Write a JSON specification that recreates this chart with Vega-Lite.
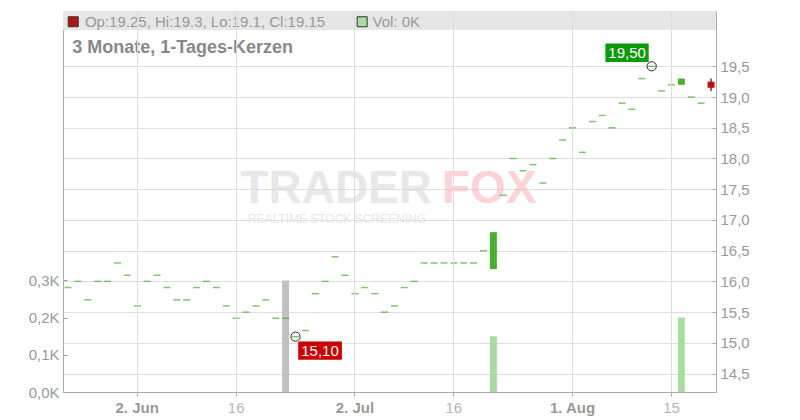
{
  "$schema": "https://vega.github.io/schema/vega-lite/v6.json",
  "width": 653,
  "height": 381,
  "autosize": {"type": "none"},
  "padding": {"left": 63, "top": 11, "right": 84, "bottom": 28},
  "background": "white",
  "config": {"view": {"stroke": "#cccccc"}, "font": "Liberation Sans"},
  "data": {"values": [
    {"date": "2025-05-22", "open": 15.9, "high": 15.9, "low": 15.9, "close": 15.9, "volume": 0},
    {"date": "2025-05-23", "open": 16.0, "high": 16.0, "low": 16.0, "close": 16.0, "volume": 0},
    {"date": "2025-05-26", "open": 15.7, "high": 15.7, "low": 15.7, "close": 15.7, "volume": 0},
    {"date": "2025-05-27", "open": 16.0, "high": 16.0, "low": 16.0, "close": 16.0, "volume": 0},
    {"date": "2025-05-28", "open": 16.0, "high": 16.0, "low": 16.0, "close": 16.0, "volume": 0},
    {"date": "2025-05-29", "open": 16.3, "high": 16.3, "low": 16.3, "close": 16.3, "volume": 0},
    {"date": "2025-05-30", "open": 16.1, "high": 16.1, "low": 16.1, "close": 16.1, "volume": 0},
    {"date": "2025-06-02", "open": 15.6, "high": 15.6, "low": 15.6, "close": 15.6, "volume": 0},
    {"date": "2025-06-03", "open": 16.0, "high": 16.0, "low": 16.0, "close": 16.0, "volume": 0},
    {"date": "2025-06-04", "open": 16.1, "high": 16.1, "low": 16.1, "close": 16.1, "volume": 0},
    {"date": "2025-06-05", "open": 15.9, "high": 15.9, "low": 15.9, "close": 15.9, "volume": 0},
    {"date": "2025-06-06", "open": 15.7, "high": 15.7, "low": 15.7, "close": 15.7, "volume": 0},
    {"date": "2025-06-09", "open": 15.7, "high": 15.7, "low": 15.7, "close": 15.7, "volume": 0},
    {"date": "2025-06-10", "open": 15.9, "high": 15.9, "low": 15.9, "close": 15.9, "volume": 0},
    {"date": "2025-06-11", "open": 16.0, "high": 16.0, "low": 16.0, "close": 16.0, "volume": 0},
    {"date": "2025-06-12", "open": 15.9, "high": 15.9, "low": 15.9, "close": 15.9, "volume": 0},
    {"date": "2025-06-13", "open": 15.6, "high": 15.6, "low": 15.6, "close": 15.6, "volume": 0},
    {"date": "2025-06-16", "open": 15.4, "high": 15.4, "low": 15.4, "close": 15.4, "volume": 0},
    {"date": "2025-06-17", "open": 15.5, "high": 15.5, "low": 15.5, "close": 15.5, "volume": 0},
    {"date": "2025-06-18", "open": 15.6, "high": 15.6, "low": 15.6, "close": 15.6, "volume": 0},
    {"date": "2025-06-19", "open": 15.7, "high": 15.7, "low": 15.7, "close": 15.7, "volume": 0},
    {"date": "2025-06-20", "open": 15.4, "high": 15.4, "low": 15.4, "close": 15.4, "volume": 0},
    {"date": "2025-06-23", "open": 15.4, "high": 15.4, "low": 15.4, "close": 15.4, "volume": 300},
    {"date": "2025-06-24", "open": 15.1, "high": 15.1, "low": 15.1, "close": 15.1, "volume": 0},
    {"date": "2025-06-25", "open": 15.2, "high": 15.2, "low": 15.2, "close": 15.2, "volume": 0},
    {"date": "2025-06-26", "open": 15.8, "high": 15.8, "low": 15.8, "close": 15.8, "volume": 0},
    {"date": "2025-06-27", "open": 16.0, "high": 16.0, "low": 16.0, "close": 16.0, "volume": 0},
    {"date": "2025-06-30", "open": 16.4, "high": 16.4, "low": 16.4, "close": 16.4, "volume": 0},
    {"date": "2025-07-01", "open": 16.1, "high": 16.1, "low": 16.1, "close": 16.1, "volume": 0},
    {"date": "2025-07-02", "open": 15.8, "high": 15.8, "low": 15.8, "close": 15.8, "volume": 0},
    {"date": "2025-07-03", "open": 15.9, "high": 15.9, "low": 15.9, "close": 15.9, "volume": 0},
    {"date": "2025-07-04", "open": 15.8, "high": 15.8, "low": 15.8, "close": 15.8, "volume": 0},
    {"date": "2025-07-07", "open": 15.5, "high": 15.5, "low": 15.5, "close": 15.5, "volume": 0},
    {"date": "2025-07-08", "open": 15.6, "high": 15.6, "low": 15.6, "close": 15.6, "volume": 0},
    {"date": "2025-07-09", "open": 15.9, "high": 15.9, "low": 15.9, "close": 15.9, "volume": 0},
    {"date": "2025-07-10", "open": 16.0, "high": 16.0, "low": 16.0, "close": 16.0, "volume": 0},
    {"date": "2025-07-11", "open": 16.3, "high": 16.3, "low": 16.3, "close": 16.3, "volume": 0},
    {"date": "2025-07-14", "open": 16.3, "high": 16.3, "low": 16.3, "close": 16.3, "volume": 0},
    {"date": "2025-07-15", "open": 16.3, "high": 16.3, "low": 16.3, "close": 16.3, "volume": 0},
    {"date": "2025-07-16", "open": 16.3, "high": 16.3, "low": 16.3, "close": 16.3, "volume": 0},
    {"date": "2025-07-17", "open": 16.3, "high": 16.3, "low": 16.3, "close": 16.3, "volume": 0},
    {"date": "2025-07-18", "open": 16.3, "high": 16.3, "low": 16.3, "close": 16.3, "volume": 0},
    {"date": "2025-07-21", "open": 16.5, "high": 16.5, "low": 16.5, "close": 16.5, "volume": 0},
    {"date": "2025-07-22", "open": 16.2, "high": 16.8, "low": 16.2, "close": 16.8, "volume": 150},
    {"date": "2025-07-23", "open": 17.4, "high": 17.4, "low": 17.4, "close": 17.4, "volume": 0},
    {"date": "2025-07-24", "open": 18.0, "high": 18.0, "low": 18.0, "close": 18.0, "volume": 0},
    {"date": "2025-07-25", "open": 17.8, "high": 17.8, "low": 17.8, "close": 17.8, "volume": 0},
    {"date": "2025-07-28", "open": 17.9, "high": 17.9, "low": 17.9, "close": 17.9, "volume": 0},
    {"date": "2025-07-29", "open": 17.6, "high": 17.6, "low": 17.6, "close": 17.6, "volume": 0},
    {"date": "2025-07-30", "open": 18.0, "high": 18.0, "low": 18.0, "close": 18.0, "volume": 0},
    {"date": "2025-07-31", "open": 18.3, "high": 18.3, "low": 18.3, "close": 18.3, "volume": 0},
    {"date": "2025-08-01", "open": 18.5, "high": 18.5, "low": 18.5, "close": 18.5, "volume": 0},
    {"date": "2025-08-04", "open": 18.1, "high": 18.1, "low": 18.1, "close": 18.1, "volume": 0},
    {"date": "2025-08-05", "open": 18.6, "high": 18.6, "low": 18.6, "close": 18.6, "volume": 0},
    {"date": "2025-08-06", "open": 18.7, "high": 18.7, "low": 18.7, "close": 18.7, "volume": 0},
    {"date": "2025-08-07", "open": 18.5, "high": 18.5, "low": 18.5, "close": 18.5, "volume": 0},
    {"date": "2025-08-08", "open": 18.9, "high": 18.9, "low": 18.9, "close": 18.9, "volume": 0},
    {"date": "2025-08-11", "open": 18.8, "high": 18.8, "low": 18.8, "close": 18.8, "volume": 0},
    {"date": "2025-08-12", "open": 19.3, "high": 19.3, "low": 19.3, "close": 19.3, "volume": 0},
    {"date": "2025-08-13", "open": 19.5, "high": 19.5, "low": 19.5, "close": 19.5, "volume": 0},
    {"date": "2025-08-14", "open": 19.1, "high": 19.1, "low": 19.1, "close": 19.1, "volume": 0},
    {"date": "2025-08-15", "open": 19.2, "high": 19.2, "low": 19.2, "close": 19.2, "volume": 0},
    {"date": "2025-08-18", "open": 19.2, "high": 19.3, "low": 19.2, "close": 19.3, "volume": 200},
    {"date": "2025-08-19", "open": 19.0, "high": 19.0, "low": 19.0, "close": 19.0, "volume": 0},
    {"date": "2025-08-20", "open": 18.9, "high": 18.9, "low": 18.9, "close": 18.9, "volume": 0},
    {"date": "2025-08-21", "open": 19.25, "high": 19.3, "low": 19.1, "close": 19.15, "volume": 0}
  ]},
  "layer": [
    {
      "transform": [{"filter": "datum.volume > 0"}],
      "mark": {"type": "bar", "size": 7},
      "encoding": {
        "x": {"field": "date", "type": "ordinal", "scale": {"type": "band", "paddingInner": 0, "paddingOuter": 0}, "axis": {"title": null, "values": ["2025-06-02", "2025-06-16", "2025-07-02", "2025-07-16", "2025-08-01", "2025-08-15"], "labelExpr": "indexof(['2025-06-02','2025-07-02','2025-08-01'], datum.value) >= 0 ? utcFormat(toDate(datum.value), '%-d. %b') : utcFormat(toDate(datum.value), '%-d')", "labelAngle": 0, "labelFontSize": 15, "labelFontWeight": {"condition": {"test": "indexof(['2025-06-02','2025-07-02','2025-08-01'], datum.value) >= 0", "value": "bold"}, "value": "normal"}, "labelColor": {"condition": {"test": "indexof(['2025-06-02','2025-07-02','2025-08-01'], datum.value) >= 0", "value": "#999999"}, "value": "#b5b5b5"}, "grid": true, "gridColor": "#dddddd", "domainColor": "#aaaaaa", "tickColor": "#aaaaaa", "tickSize": 4, "labelPadding": 4, "bandPosition": 0.5, "zindex": 1}},
        "y": {"field": "volume", "type": "quantitative", "scale": {"domain": [0, 1025], "nice": false}, "axis": {"orient": "left", "title": null, "values": [0, 100, 200, 300], "labelExpr": "replace(format(datum.value / 1000, '.1f'), '.', ',') + 'K'", "labelFontSize": 15, "labelColor": "#999999", "grid": false, "domainColor": "#aaaaaa", "tickColor": "#999999", "tickSize": -4, "labelPadding": 8}},
        "color": {"condition": {"test": "datum.close > datum.open", "value": "#a8dca0"}, "value": "#c0c0c0"}
      }
    },
    {
      "layer": [
        {
          "data": {"values": [{}]},
          "mark": {"type": "rect", "color": "#e6e6e6"},
          "encoding": {
            "y": {"datum": 20.09, "type": "quantitative", "scale": {"domain": [14.2, 20.4], "nice": false, "zero": false}, "axis": {"orient": "right", "title": null, "values": [14.5, 15, 15.5, 16, 16.5, 17, 17.5, 18, 18.5, 19, 19.5], "labelExpr": "replace(format(datum.value, '.1f'), '.', ',')", "labelFontSize": 15, "labelColor": "#999999", "grid": true, "gridColor": "#dddddd", "domainColor": "#aaaaaa", "tickColor": "#aaaaaa", "tickSize": -4, "labelPadding": 8}},
            "y2": {"datum": 20.4}
          }
        },
        {
          "data": {"values": [{"date": "2025-07-14", "t": "TRADER"}]},
          "mark": {"type": "text", "align": "right", "baseline": "middle", "dx": -2, "fontSize": 46, "fontWeight": "bold", "color": "#d6d6d6", "opacity": 0.55},
          "encoding": {
            "x": {"field": "date", "type": "ordinal", "scale": {"type": "band", "paddingInner": 0, "paddingOuter": 0}, "axis": {"title": null, "values": ["2025-06-02", "2025-06-16", "2025-07-02", "2025-07-16", "2025-08-01", "2025-08-15"], "labelExpr": "indexof(['2025-06-02','2025-07-02','2025-08-01'], datum.value) >= 0 ? utcFormat(toDate(datum.value), '%-d. %b') : utcFormat(toDate(datum.value), '%-d')", "labelAngle": 0, "labelFontSize": 15, "labelFontWeight": {"condition": {"test": "indexof(['2025-06-02','2025-07-02','2025-08-01'], datum.value) >= 0", "value": "bold"}, "value": "normal"}, "labelColor": {"condition": {"test": "indexof(['2025-06-02','2025-07-02','2025-08-01'], datum.value) >= 0", "value": "#999999"}, "value": "#b5b5b5"}, "grid": true, "gridColor": "#dddddd", "domainColor": "#aaaaaa", "tickColor": "#aaaaaa", "tickSize": 4, "labelPadding": 4, "bandPosition": 0.5, "zindex": 1}},
            "y": {"datum": 17.5, "type": "quantitative", "scale": {"domain": [14.2, 20.4], "nice": false, "zero": false}, "axis": {"orient": "right", "title": null, "values": [14.5, 15, 15.5, 16, 16.5, 17, 17.5, 18, 18.5, 19, 19.5], "labelExpr": "replace(format(datum.value, '.1f'), '.', ',')", "labelFontSize": 15, "labelColor": "#999999", "grid": true, "gridColor": "#dddddd", "domainColor": "#aaaaaa", "tickColor": "#aaaaaa", "tickSize": -4, "labelPadding": 8}},
            "text": {"field": "t"}
          }
        },
        {
          "data": {"values": [{"date": "2025-07-14", "t": "FOX"}]},
          "mark": {"type": "text", "align": "left", "baseline": "middle", "dx": 8, "fontSize": 46, "fontWeight": "bold", "color": "#f9a9b2", "opacity": 0.5},
          "encoding": {
            "x": {"field": "date", "type": "ordinal", "scale": {"type": "band", "paddingInner": 0, "paddingOuter": 0}, "axis": {"title": null, "values": ["2025-06-02", "2025-06-16", "2025-07-02", "2025-07-16", "2025-08-01", "2025-08-15"], "labelExpr": "indexof(['2025-06-02','2025-07-02','2025-08-01'], datum.value) >= 0 ? utcFormat(toDate(datum.value), '%-d. %b') : utcFormat(toDate(datum.value), '%-d')", "labelAngle": 0, "labelFontSize": 15, "labelFontWeight": {"condition": {"test": "indexof(['2025-06-02','2025-07-02','2025-08-01'], datum.value) >= 0", "value": "bold"}, "value": "normal"}, "labelColor": {"condition": {"test": "indexof(['2025-06-02','2025-07-02','2025-08-01'], datum.value) >= 0", "value": "#999999"}, "value": "#b5b5b5"}, "grid": true, "gridColor": "#dddddd", "domainColor": "#aaaaaa", "tickColor": "#aaaaaa", "tickSize": 4, "labelPadding": 4, "bandPosition": 0.5, "zindex": 1}},
            "y": {"datum": 17.5, "type": "quantitative", "scale": {"domain": [14.2, 20.4], "nice": false, "zero": false}, "axis": {"orient": "right", "title": null, "values": [14.5, 15, 15.5, 16, 16.5, 17, 17.5, 18, 18.5, 19, 19.5], "labelExpr": "replace(format(datum.value, '.1f'), '.', ',')", "labelFontSize": 15, "labelColor": "#999999", "grid": true, "gridColor": "#dddddd", "domainColor": "#aaaaaa", "tickColor": "#aaaaaa", "tickSize": -4, "labelPadding": 8}},
            "text": {"field": "t"}
          }
        },
        {
          "data": {"values": [{"date": "2025-07-14", "t": "REALTIME STOCK SCREENING"}]},
          "mark": {"type": "text", "align": "right", "baseline": "middle", "dx": -8, "fontSize": 12, "color": "#dcdcdc", "opacity": 0.7},
          "encoding": {
            "x": {"field": "date", "type": "ordinal", "scale": {"type": "band", "paddingInner": 0, "paddingOuter": 0}, "axis": {"title": null, "values": ["2025-06-02", "2025-06-16", "2025-07-02", "2025-07-16", "2025-08-01", "2025-08-15"], "labelExpr": "indexof(['2025-06-02','2025-07-02','2025-08-01'], datum.value) >= 0 ? utcFormat(toDate(datum.value), '%-d. %b') : utcFormat(toDate(datum.value), '%-d')", "labelAngle": 0, "labelFontSize": 15, "labelFontWeight": {"condition": {"test": "indexof(['2025-06-02','2025-07-02','2025-08-01'], datum.value) >= 0", "value": "bold"}, "value": "normal"}, "labelColor": {"condition": {"test": "indexof(['2025-06-02','2025-07-02','2025-08-01'], datum.value) >= 0", "value": "#999999"}, "value": "#b5b5b5"}, "grid": true, "gridColor": "#dddddd", "domainColor": "#aaaaaa", "tickColor": "#aaaaaa", "tickSize": 4, "labelPadding": 4, "bandPosition": 0.5, "zindex": 1}},
            "y": {"datum": 17.02, "type": "quantitative", "scale": {"domain": [14.2, 20.4], "nice": false, "zero": false}, "axis": {"orient": "right", "title": null, "values": [14.5, 15, 15.5, 16, 16.5, 17, 17.5, 18, 18.5, 19, 19.5], "labelExpr": "replace(format(datum.value, '.1f'), '.', ',')", "labelFontSize": 15, "labelColor": "#999999", "grid": true, "gridColor": "#dddddd", "domainColor": "#aaaaaa", "tickColor": "#aaaaaa", "tickSize": -4, "labelPadding": 8}},
            "text": {"field": "t"}
          }
        },
        {
          "transform": [{"filter": "datum.high > datum.low"}],
          "mark": {"type": "rule", "strokeWidth": 1.5},
          "encoding": {
            "x": {"field": "date", "type": "ordinal", "scale": {"type": "band", "paddingInner": 0, "paddingOuter": 0}, "axis": {"title": null, "values": ["2025-06-02", "2025-06-16", "2025-07-02", "2025-07-16", "2025-08-01", "2025-08-15"], "labelExpr": "indexof(['2025-06-02','2025-07-02','2025-08-01'], datum.value) >= 0 ? utcFormat(toDate(datum.value), '%-d. %b') : utcFormat(toDate(datum.value), '%-d')", "labelAngle": 0, "labelFontSize": 15, "labelFontWeight": {"condition": {"test": "indexof(['2025-06-02','2025-07-02','2025-08-01'], datum.value) >= 0", "value": "bold"}, "value": "normal"}, "labelColor": {"condition": {"test": "indexof(['2025-06-02','2025-07-02','2025-08-01'], datum.value) >= 0", "value": "#999999"}, "value": "#b5b5b5"}, "grid": true, "gridColor": "#dddddd", "domainColor": "#aaaaaa", "tickColor": "#aaaaaa", "tickSize": 4, "labelPadding": 4, "bandPosition": 0.5, "zindex": 1}},
            "y": {"field": "low", "type": "quantitative", "scale": {"domain": [14.2, 20.4], "nice": false, "zero": false}, "axis": {"orient": "right", "title": null, "values": [14.5, 15, 15.5, 16, 16.5, 17, 17.5, 18, 18.5, 19, 19.5], "labelExpr": "replace(format(datum.value, '.1f'), '.', ',')", "labelFontSize": 15, "labelColor": "#999999", "grid": true, "gridColor": "#dddddd", "domainColor": "#aaaaaa", "tickColor": "#aaaaaa", "tickSize": -4, "labelPadding": 8}},
            "y2": {"field": "high"},
            "color": {"condition": {"test": "datum.close < datum.open", "value": "#b31515"}, "value": "#4aae32"}
          }
        },
        {
          "transform": [{"filter": "datum.open != datum.close"}],
          "mark": {"type": "bar", "size": 7},
          "encoding": {
            "x": {"field": "date", "type": "ordinal", "scale": {"type": "band", "paddingInner": 0, "paddingOuter": 0}, "axis": {"title": null, "values": ["2025-06-02", "2025-06-16", "2025-07-02", "2025-07-16", "2025-08-01", "2025-08-15"], "labelExpr": "indexof(['2025-06-02','2025-07-02','2025-08-01'], datum.value) >= 0 ? utcFormat(toDate(datum.value), '%-d. %b') : utcFormat(toDate(datum.value), '%-d')", "labelAngle": 0, "labelFontSize": 15, "labelFontWeight": {"condition": {"test": "indexof(['2025-06-02','2025-07-02','2025-08-01'], datum.value) >= 0", "value": "bold"}, "value": "normal"}, "labelColor": {"condition": {"test": "indexof(['2025-06-02','2025-07-02','2025-08-01'], datum.value) >= 0", "value": "#999999"}, "value": "#b5b5b5"}, "grid": true, "gridColor": "#dddddd", "domainColor": "#aaaaaa", "tickColor": "#aaaaaa", "tickSize": 4, "labelPadding": 4, "bandPosition": 0.5, "zindex": 1}},
            "y": {"field": "open", "type": "quantitative", "scale": {"domain": [14.2, 20.4], "nice": false, "zero": false}, "axis": {"orient": "right", "title": null, "values": [14.5, 15, 15.5, 16, 16.5, 17, 17.5, 18, 18.5, 19, 19.5], "labelExpr": "replace(format(datum.value, '.1f'), '.', ',')", "labelFontSize": 15, "labelColor": "#999999", "grid": true, "gridColor": "#dddddd", "domainColor": "#aaaaaa", "tickColor": "#aaaaaa", "tickSize": -4, "labelPadding": 8}},
            "y2": {"field": "close"},
            "color": {"condition": {"test": "datum.close < datum.open", "value": "#b31515"}, "value": "#4aae32"}
          }
        },
        {
          "transform": [{"filter": "datum.open == datum.close"}],
          "mark": {"type": "tick", "size": 7, "thickness": 1.5, "orient": "horizontal", "color": "#4aae32"},
          "encoding": {
            "x": {"field": "date", "type": "ordinal", "scale": {"type": "band", "paddingInner": 0, "paddingOuter": 0}, "axis": {"title": null, "values": ["2025-06-02", "2025-06-16", "2025-07-02", "2025-07-16", "2025-08-01", "2025-08-15"], "labelExpr": "indexof(['2025-06-02','2025-07-02','2025-08-01'], datum.value) >= 0 ? utcFormat(toDate(datum.value), '%-d. %b') : utcFormat(toDate(datum.value), '%-d')", "labelAngle": 0, "labelFontSize": 15, "labelFontWeight": {"condition": {"test": "indexof(['2025-06-02','2025-07-02','2025-08-01'], datum.value) >= 0", "value": "bold"}, "value": "normal"}, "labelColor": {"condition": {"test": "indexof(['2025-06-02','2025-07-02','2025-08-01'], datum.value) >= 0", "value": "#999999"}, "value": "#b5b5b5"}, "grid": true, "gridColor": "#dddddd", "domainColor": "#aaaaaa", "tickColor": "#aaaaaa", "tickSize": 4, "labelPadding": 4, "bandPosition": 0.5, "zindex": 1}},
            "y": {"field": "close", "type": "quantitative", "scale": {"domain": [14.2, 20.4], "nice": false, "zero": false}, "axis": {"orient": "right", "title": null, "values": [14.5, 15, 15.5, 16, 16.5, 17, 17.5, 18, 18.5, 19, 19.5], "labelExpr": "replace(format(datum.value, '.1f'), '.', ',')", "labelFontSize": 15, "labelColor": "#999999", "grid": true, "gridColor": "#dddddd", "domainColor": "#aaaaaa", "tickColor": "#aaaaaa", "tickSize": -4, "labelPadding": 8}}
          }
        },
        {
          "data": {"values": [{"date": "2025-06-24", "price": 15.1}, {"date": "2025-08-13", "price": 19.5}]},
          "mark": {"type": "point", "shape": "circle", "filled": false, "stroke": "#222222", "strokeWidth": 1, "size": 85, "opacity": 1},
          "encoding": {
            "x": {"field": "date", "type": "ordinal", "scale": {"type": "band", "paddingInner": 0, "paddingOuter": 0}, "axis": {"title": null, "values": ["2025-06-02", "2025-06-16", "2025-07-02", "2025-07-16", "2025-08-01", "2025-08-15"], "labelExpr": "indexof(['2025-06-02','2025-07-02','2025-08-01'], datum.value) >= 0 ? utcFormat(toDate(datum.value), '%-d. %b') : utcFormat(toDate(datum.value), '%-d')", "labelAngle": 0, "labelFontSize": 15, "labelFontWeight": {"condition": {"test": "indexof(['2025-06-02','2025-07-02','2025-08-01'], datum.value) >= 0", "value": "bold"}, "value": "normal"}, "labelColor": {"condition": {"test": "indexof(['2025-06-02','2025-07-02','2025-08-01'], datum.value) >= 0", "value": "#999999"}, "value": "#b5b5b5"}, "grid": true, "gridColor": "#dddddd", "domainColor": "#aaaaaa", "tickColor": "#aaaaaa", "tickSize": 4, "labelPadding": 4, "bandPosition": 0.5, "zindex": 1}},
            "y": {"field": "price", "type": "quantitative", "scale": {"domain": [14.2, 20.4], "nice": false, "zero": false}, "axis": {"orient": "right", "title": null, "values": [14.5, 15, 15.5, 16, 16.5, 17, 17.5, 18, 18.5, 19, 19.5], "labelExpr": "replace(format(datum.value, '.1f'), '.', ',')", "labelFontSize": 15, "labelColor": "#999999", "grid": true, "gridColor": "#dddddd", "domainColor": "#aaaaaa", "tickColor": "#aaaaaa", "tickSize": -4, "labelPadding": 8}}
          }
        },
        {
          "data": {"values": [{"date": "2025-06-24", "price": 15.1, "label": "15,10"}]},
          "layer": [
            {"mark": {"type": "point", "shape": "M0.27,0.47H4.64V2.3H0.27Z", "size": 400, "filled": true, "color": "#cc0000", "opacity": 1, "strokeWidth": 0}},
            {"mark": {"type": "text", "align": "center", "baseline": "middle", "dx": 24.5, "dy": 14.5, "fontSize": 15, "color": "white"}, "encoding": {"text": {"field": "label"}}}
          ],
          "encoding": {
            "x": {"field": "date", "type": "ordinal", "scale": {"type": "band", "paddingInner": 0, "paddingOuter": 0}, "axis": {"title": null, "values": ["2025-06-02", "2025-06-16", "2025-07-02", "2025-07-16", "2025-08-01", "2025-08-15"], "labelExpr": "indexof(['2025-06-02','2025-07-02','2025-08-01'], datum.value) >= 0 ? utcFormat(toDate(datum.value), '%-d. %b') : utcFormat(toDate(datum.value), '%-d')", "labelAngle": 0, "labelFontSize": 15, "labelFontWeight": {"condition": {"test": "indexof(['2025-06-02','2025-07-02','2025-08-01'], datum.value) >= 0", "value": "bold"}, "value": "normal"}, "labelColor": {"condition": {"test": "indexof(['2025-06-02','2025-07-02','2025-08-01'], datum.value) >= 0", "value": "#999999"}, "value": "#b5b5b5"}, "grid": true, "gridColor": "#dddddd", "domainColor": "#aaaaaa", "tickColor": "#aaaaaa", "tickSize": 4, "labelPadding": 4, "bandPosition": 0.5, "zindex": 1}},
            "y": {"field": "price", "type": "quantitative", "scale": {"domain": [14.2, 20.4], "nice": false, "zero": false}, "axis": {"orient": "right", "title": null, "values": [14.5, 15, 15.5, 16, 16.5, 17, 17.5, 18, 18.5, 19, 19.5], "labelExpr": "replace(format(datum.value, '.1f'), '.', ',')", "labelFontSize": 15, "labelColor": "#999999", "grid": true, "gridColor": "#dddddd", "domainColor": "#aaaaaa", "tickColor": "#aaaaaa", "tickSize": -4, "labelPadding": 8}}
          }
        },
        {
          "data": {"values": [{"date": "2025-08-13", "price": 19.5, "label": "19,50"}]},
          "layer": [
            {"mark": {"type": "point", "shape": "M-4.63,-2.27H-0.3V-0.43H-4.63Z", "size": 400, "filled": true, "color": "#0a9a0a", "opacity": 1, "strokeWidth": 0}},
            {"mark": {"type": "text", "align": "center", "baseline": "middle", "dx": -24.6, "dy": -13.3, "fontSize": 15, "color": "white"}, "encoding": {"text": {"field": "label"}}}
          ],
          "encoding": {
            "x": {"field": "date", "type": "ordinal", "scale": {"type": "band", "paddingInner": 0, "paddingOuter": 0}, "axis": {"title": null, "values": ["2025-06-02", "2025-06-16", "2025-07-02", "2025-07-16", "2025-08-01", "2025-08-15"], "labelExpr": "indexof(['2025-06-02','2025-07-02','2025-08-01'], datum.value) >= 0 ? utcFormat(toDate(datum.value), '%-d. %b') : utcFormat(toDate(datum.value), '%-d')", "labelAngle": 0, "labelFontSize": 15, "labelFontWeight": {"condition": {"test": "indexof(['2025-06-02','2025-07-02','2025-08-01'], datum.value) >= 0", "value": "bold"}, "value": "normal"}, "labelColor": {"condition": {"test": "indexof(['2025-06-02','2025-07-02','2025-08-01'], datum.value) >= 0", "value": "#999999"}, "value": "#b5b5b5"}, "grid": true, "gridColor": "#dddddd", "domainColor": "#aaaaaa", "tickColor": "#aaaaaa", "tickSize": 4, "labelPadding": 4, "bandPosition": 0.5, "zindex": 1}},
            "y": {"field": "price", "type": "quantitative", "scale": {"domain": [14.2, 20.4], "nice": false, "zero": false}, "axis": {"orient": "right", "title": null, "values": [14.5, 15, 15.5, 16, 16.5, 17, 17.5, 18, 18.5, 19, 19.5], "labelExpr": "replace(format(datum.value, '.1f'), '.', ',')", "labelFontSize": 15, "labelColor": "#999999", "grid": true, "gridColor": "#dddddd", "domainColor": "#aaaaaa", "tickColor": "#aaaaaa", "tickSize": -4, "labelPadding": 8}}
          }
        },
        {
          "data": {"values": [{"date": "2025-05-22", "t": "Op:19.25, Hi:19.3, Lo:19.1, Cl:19.15"}]},
          "layer": [
            {"mark": {"type": "point", "shape": "M0.06,-1H2.06V1H0.06Z", "size": 100, "filled": true, "fill": "#b31515", "stroke": "#333333", "strokeWidth": 1, "opacity": 1}},
            {"mark": {"type": "text", "align": "left", "baseline": "middle", "dx": 17, "fontSize": 15, "color": "#999999"}, "encoding": {"text": {"field": "t"}}}
          ],
          "encoding": {
            "x": {"field": "date", "type": "ordinal", "scale": {"type": "band", "paddingInner": 0, "paddingOuter": 0}, "axis": {"title": null, "values": ["2025-06-02", "2025-06-16", "2025-07-02", "2025-07-16", "2025-08-01", "2025-08-15"], "labelExpr": "indexof(['2025-06-02','2025-07-02','2025-08-01'], datum.value) >= 0 ? utcFormat(toDate(datum.value), '%-d. %b') : utcFormat(toDate(datum.value), '%-d')", "labelAngle": 0, "labelFontSize": 15, "labelFontWeight": {"condition": {"test": "indexof(['2025-06-02','2025-07-02','2025-08-01'], datum.value) >= 0", "value": "bold"}, "value": "normal"}, "labelColor": {"condition": {"test": "indexof(['2025-06-02','2025-07-02','2025-08-01'], datum.value) >= 0", "value": "#999999"}, "value": "#b5b5b5"}, "grid": true, "gridColor": "#dddddd", "domainColor": "#aaaaaa", "tickColor": "#aaaaaa", "tickSize": 4, "labelPadding": 4, "bandPosition": 0.5, "zindex": 1}},
            "y": {"datum": 20.225, "type": "quantitative", "scale": {"domain": [14.2, 20.4], "nice": false, "zero": false}, "axis": {"orient": "right", "title": null, "values": [14.5, 15, 15.5, 16, 16.5, 17, 17.5, 18, 18.5, 19, 19.5], "labelExpr": "replace(format(datum.value, '.1f'), '.', ',')", "labelFontSize": 15, "labelColor": "#999999", "grid": true, "gridColor": "#dddddd", "domainColor": "#aaaaaa", "tickColor": "#aaaaaa", "tickSize": -4, "labelPadding": 8}}
          }
        },
        {
          "data": {"values": [{"date": "2025-07-03", "t": "Vol: 0K"}]},
          "layer": [
            {"mark": {"type": "point", "shape": "M-1.52,-1H0.48V1H-1.52Z", "size": 100, "filled": true, "fill": "#a8dca0", "stroke": "#333333", "strokeWidth": 1, "opacity": 1}},
            {"mark": {"type": "text", "align": "left", "baseline": "middle", "dx": 7.7, "fontSize": 15, "color": "#999999"}, "encoding": {"text": {"field": "t"}}}
          ],
          "encoding": {
            "x": {"field": "date", "type": "ordinal", "scale": {"type": "band", "paddingInner": 0, "paddingOuter": 0}, "axis": {"title": null, "values": ["2025-06-02", "2025-06-16", "2025-07-02", "2025-07-16", "2025-08-01", "2025-08-15"], "labelExpr": "indexof(['2025-06-02','2025-07-02','2025-08-01'], datum.value) >= 0 ? utcFormat(toDate(datum.value), '%-d. %b') : utcFormat(toDate(datum.value), '%-d')", "labelAngle": 0, "labelFontSize": 15, "labelFontWeight": {"condition": {"test": "indexof(['2025-06-02','2025-07-02','2025-08-01'], datum.value) >= 0", "value": "bold"}, "value": "normal"}, "labelColor": {"condition": {"test": "indexof(['2025-06-02','2025-07-02','2025-08-01'], datum.value) >= 0", "value": "#999999"}, "value": "#b5b5b5"}, "grid": true, "gridColor": "#dddddd", "domainColor": "#aaaaaa", "tickColor": "#aaaaaa", "tickSize": 4, "labelPadding": 4, "bandPosition": 0.5, "zindex": 1}},
            "y": {"datum": 20.225, "type": "quantitative", "scale": {"domain": [14.2, 20.4], "nice": false, "zero": false}, "axis": {"orient": "right", "title": null, "values": [14.5, 15, 15.5, 16, 16.5, 17, 17.5, 18, 18.5, 19, 19.5], "labelExpr": "replace(format(datum.value, '.1f'), '.', ',')", "labelFontSize": 15, "labelColor": "#999999", "grid": true, "gridColor": "#dddddd", "domainColor": "#aaaaaa", "tickColor": "#aaaaaa", "tickSize": -4, "labelPadding": 8}}
          }
        },
        {
          "data": {"values": [{"date": "2025-05-22", "t": "3 Monate, 1-Tages-Kerzen"}]},
          "mark": {"type": "text", "align": "left", "baseline": "middle", "dx": 4.3, "fontSize": 18, "fontWeight": "bold", "color": "#888888"},
          "encoding": {
            "x": {"field": "date", "type": "ordinal", "scale": {"type": "band", "paddingInner": 0, "paddingOuter": 0}, "axis": {"title": null, "values": ["2025-06-02", "2025-06-16", "2025-07-02", "2025-07-16", "2025-08-01", "2025-08-15"], "labelExpr": "indexof(['2025-06-02','2025-07-02','2025-08-01'], datum.value) >= 0 ? utcFormat(toDate(datum.value), '%-d. %b') : utcFormat(toDate(datum.value), '%-d')", "labelAngle": 0, "labelFontSize": 15, "labelFontWeight": {"condition": {"test": "indexof(['2025-06-02','2025-07-02','2025-08-01'], datum.value) >= 0", "value": "bold"}, "value": "normal"}, "labelColor": {"condition": {"test": "indexof(['2025-06-02','2025-07-02','2025-08-01'], datum.value) >= 0", "value": "#999999"}, "value": "#b5b5b5"}, "grid": true, "gridColor": "#dddddd", "domainColor": "#aaaaaa", "tickColor": "#aaaaaa", "tickSize": 4, "labelPadding": 4, "bandPosition": 0.5, "zindex": 1}},
            "y": {"datum": 19.79, "type": "quantitative", "scale": {"domain": [14.2, 20.4], "nice": false, "zero": false}, "axis": {"orient": "right", "title": null, "values": [14.5, 15, 15.5, 16, 16.5, 17, 17.5, 18, 18.5, 19, 19.5], "labelExpr": "replace(format(datum.value, '.1f'), '.', ',')", "labelFontSize": 15, "labelColor": "#999999", "grid": true, "gridColor": "#dddddd", "domainColor": "#aaaaaa", "tickColor": "#aaaaaa", "tickSize": -4, "labelPadding": 8}},
            "text": {"field": "t"}
          }
        }
      ]
    }
  ],
  "resolve": {"scale": {"y": "independent"}, "axis": {"y": "independent"}}
}
